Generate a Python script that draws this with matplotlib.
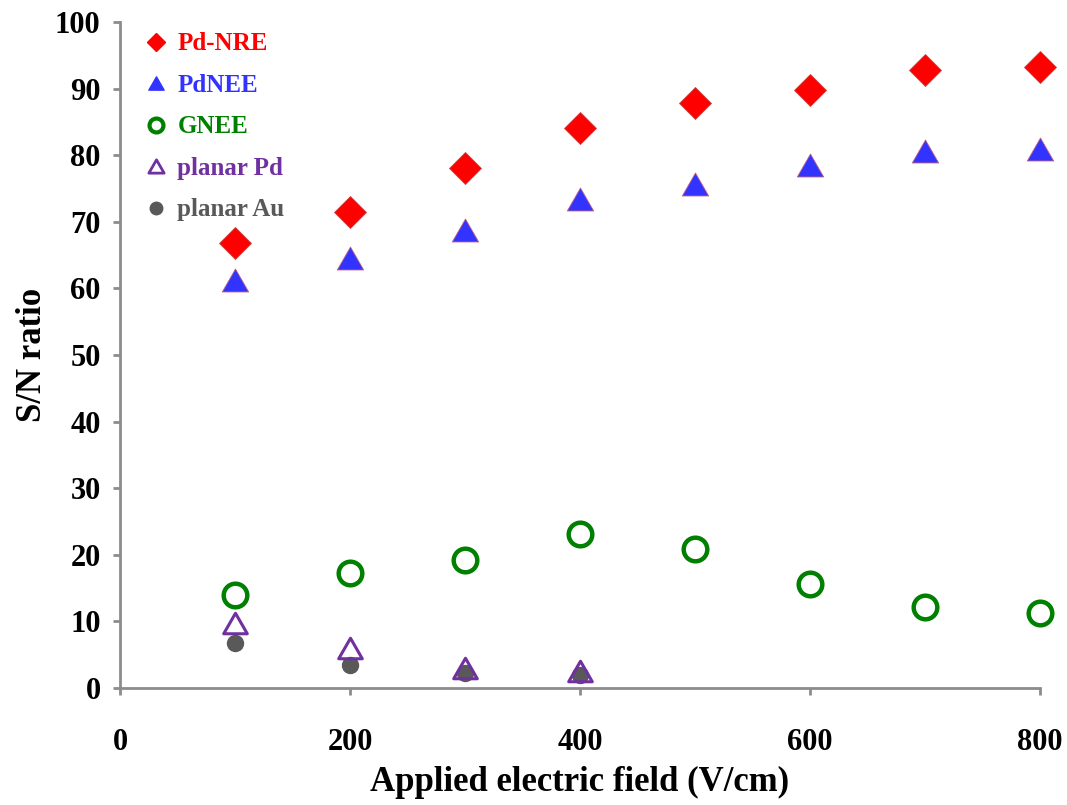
import matplotlib
matplotlib.use("Agg")
import matplotlib.pyplot as plt
from matplotlib.path import Path
from matplotlib.lines import Line2D

plt.rcParams['font.family'] = ['Liberation Serif', 'DejaVu Serif']
plt.rcParams['font.weight'] = 'bold'

field = [100, 200, 300, 400, 500, 600, 700, 800]
pd_nre = [66.8, 71.5, 78.1, 84.1, 87.8, 89.8, 92.8, 93.2]
pd_nee = [61.3, 64.6, 68.8, 73.4, 75.7, 78.5, 80.6, 80.9]
gnee = [14.0, 17.3, 19.2, 23.1, 20.9, 15.6, 12.2, 11.3]
field_planar = [100, 200, 300, 400]
planar_pd = [9.8, 6.0, 3.0, 2.6]
planar_au = [6.7, 3.5, 2.3, 2.0]

series_labels = ['Pd-NRE', 'PdNEE', 'GNEE', 'planar Pd', 'planar Au']
xticks = [0, 200, 400, 600, 800]
yticks = list(range(0, 101, 10))

tri = Path([(0, 0.87), (-1, -0.87), (1, -0.87), (0, 0.87)],
           [Path.MOVETO, Path.LINETO, Path.LINETO, Path.CLOSEPOLY])

fig = plt.figure(figsize=(10.67, 8.05), dpi=100)
ax = fig.add_axes([0.1125, 0.1453, 0.8622, 0.8274])

ax.plot(field_planar, planar_au, linestyle='none', marker='o', markersize=11.5,
        color='#595959', markeredgecolor='#595959', zorder=3, clip_on=False)
ax.plot(field_planar, planar_pd, linestyle='none', marker=tri, markersize=17,
        markerfacecolor='none', markeredgecolor='#7030A0', markeredgewidth=2.2,
        zorder=4, clip_on=False)
ax.plot(field, gnee, linestyle='none', marker='o', markersize=17,
        markerfacecolor='none', markeredgecolor='#008000', markeredgewidth=3.2,
        zorder=3, clip_on=False)
ax.plot(field, pd_nee, linestyle='none', marker=tri, markersize=19,
        markerfacecolor='#3333FF', markeredgecolor='#C06080', markeredgewidth=0.6,
        zorder=3, clip_on=False)
ax.plot(field, pd_nre, linestyle='none', marker='D', markersize=16.5,
        markerfacecolor='#FF0000', markeredgecolor='#D04040', markeredgewidth=0.6,
        zorder=3, clip_on=False)

ax.set_xlim(0, 800)
ax.set_ylim(0, 100)
ax.set_xticks(xticks)
ax.set_yticks(yticks)

for s in ['top', 'right']:
    ax.spines[s].set_visible(False)
for s in ['left', 'bottom']:
    ax.spines[s].set_color('#8C8C8C')
    ax.spines[s].set_linewidth(2.0)
ax.tick_params(axis='both', direction='out', length=5, width=2.0, color='#8C8C8C')
ax.tick_params(axis='y', labelsize=22, pad=9)
ax.tick_params(axis='x', labelsize=22, pad=24)
for lab in ax.get_xticklabels() + ax.get_yticklabels():
    lab.set_fontweight('bold')

ax.set_xlabel('Applied electric field (V/cm)', fontsize=25, fontweight='bold', labelpad=6)
ax.set_ylabel('S/N ratio', fontsize=25, fontweight='bold', labelpad=4)

text_colors = ['#FF0000', '#3333FF', '#008000', '#7030A0', '#595959']
leg_handles = [
    Line2D([], [], linestyle='none', marker='D', markersize=9, markerfacecolor='#FF0000', markeredgecolor='#FF0000'),
    Line2D([], [], linestyle='none', marker=tri, markersize=11, markerfacecolor='#3333FF', markeredgecolor='#3333FF'),
    Line2D([], [], linestyle='none', marker='o', markersize=10, markerfacecolor='none', markeredgecolor='#008000', markeredgewidth=3),
    Line2D([], [], linestyle='none', marker=tri, markersize=11, markerfacecolor='none', markeredgecolor='#7030A0', markeredgewidth=2),
    Line2D([], [], linestyle='none', marker='o', markersize=9, markerfacecolor='#595959', markeredgecolor='#595959'),
]
leg = ax.legend(leg_handles, series_labels, loc='upper left', bbox_to_anchor=(0.012, 1.007),
                frameon=False, prop={'family': 'Liberation Serif', 'weight': 'bold', 'size': 18},
                handlelength=0.8, handletextpad=0.45, labelspacing=0.74, borderaxespad=0.2)
for t, c in zip(leg.get_texts(), text_colors):
    t.set_color(c)

fig.savefig('out.png', dpi=100)
